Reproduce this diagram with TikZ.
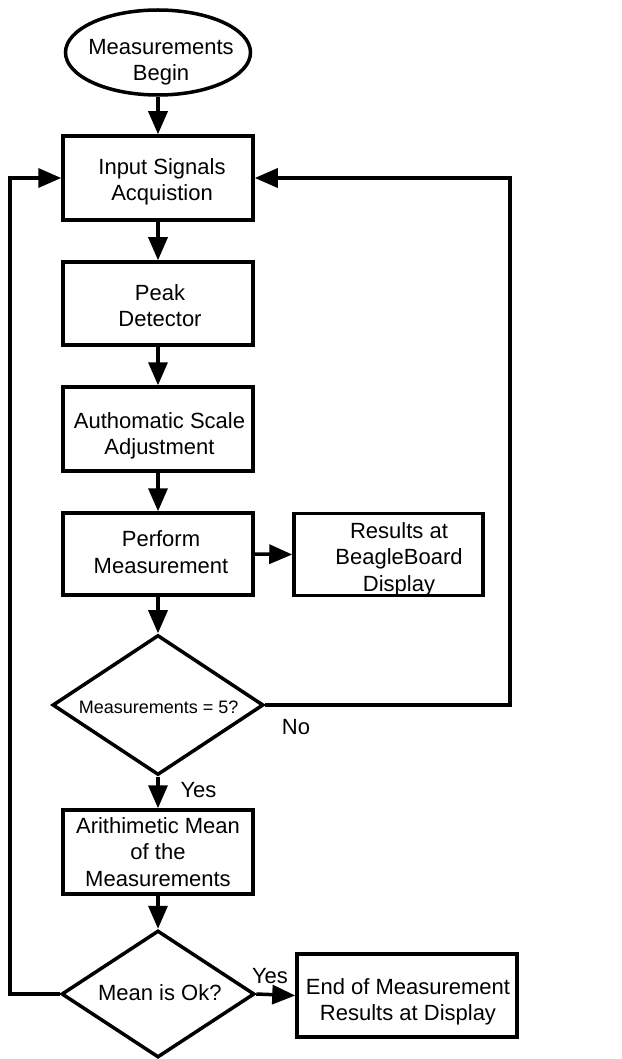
\documentclass[tikz,border=0pt]{standalone}
\usepackage{fontspec}
\setmainfont{Liberation Sans}
\usetikzlibrary{shapes.geometric,arrows.meta}
\begin{document}
\begin{tikzpicture}[x=1pt,y=-1pt,
  every node/.style={inner sep=0pt, outer sep=0pt},
  shp/.style={draw, line width=3.5pt, outer sep=1.75pt},
  proc/.style={shp, rectangle, minimum width=190pt, minimum height=84pt},
  dec/.style={shp, diamond},
  txt/.style={align=center, font=\fontsize{22}{26.5}\selectfont},
  lbl/.style={font=\fontsize{22}{26.5}\selectfont},
  conn/.style={line width=3.5pt, -{Triangle[length=23pt,width=19pt]}},
  plain/.style={line width=3.5pt}
]
\useasboundingbox (0,0) rectangle (621,1059);

% shapes
\node[shp, ellipse, minimum width=185pt, minimum height=85pt] (ell) at (158,52.5) {};
\node[proc] (input) at (158,178) {};
\node[proc, minimum height=83pt] (peak) at (158,303.5) {};
\node[proc] (auto) at (158,429) {};
\node[proc, minimum height=82pt] (perf) at (158,554) {};
\node[proc, minimum width=189pt, minimum height=82pt] (res) at (388.5,554.5) {};
\node[dec, minimum width=211pt, minimum height=140pt] (d1) at (158,705) {};
\node[proc] (arith) at (158,852) {};
\node[dec, minimum width=193pt, minimum height=127pt] (d2) at (158,994) {};
\node[proc, minimum width=220pt, minimum height=83pt] (endb) at (407,995.5) {};

% texts
\node[txt] (t-ell) at (161,62) {Measurements\\Begin};
\node[txt] (t-input) at (162,182) {Input Signals\\Acquistion};
\node[txt] (t-peak) at (160,305.5) {Peak\\Detector};
\node[txt] (t-auto) at (159.5,436) {Authomatic Scale\\Adjustment};
\node[txt] (t-perf) at (161,552) {Perform\\Measurement};
\node[txt] (t-res) at (399,559) {Results at\\BeagleBoard\\Display};
\node[font=\fontsize{18}{22}\selectfont] (t-d1) at (158.7,707.5) {Measurements = 5?};
\node[txt] (t-arith) at (158,852) {Arithimetic Mean\\of the\\Measurements};
\node[lbl] (t-d2) at (159.8,992.5) {Mean is Ok?};
\node[txt] (t-end) at (408,1002) {End of Measurement\\Results at Display};

% labels
\node[lbl] (no) at (296,727.5) {No};
\node[lbl] (yes1) at (198.5,790.5) {Yes};
\node[lbl] (yes2) at (270,976.5) {Yes};

% corner coordinates
\coordinate (rc) at (510,0);
\coordinate (lc) at (10,0);

% connectors
\draw[conn] (ell) -- (input);
\draw[conn] (input) -- (peak);
\draw[conn] (peak) -- (auto);
\draw[conn] (auto) -- (perf);
\draw[conn] (perf) -- (d1);
\draw[conn] (perf.east) -- (res.west);
\draw[conn] (d1.east) -- (d1.east -| rc) -- (input.east -| rc) -- (input.east);
\draw[conn] (d1) -- (arith);
\draw[conn] (arith) -- (d2);
\draw[conn] (d2.east) -- (endb.west);
\draw[conn] (d2.west) -- (d2.west -| lc) -- (input.west -| lc) -- (input.west);
\end{tikzpicture}
\end{document}
